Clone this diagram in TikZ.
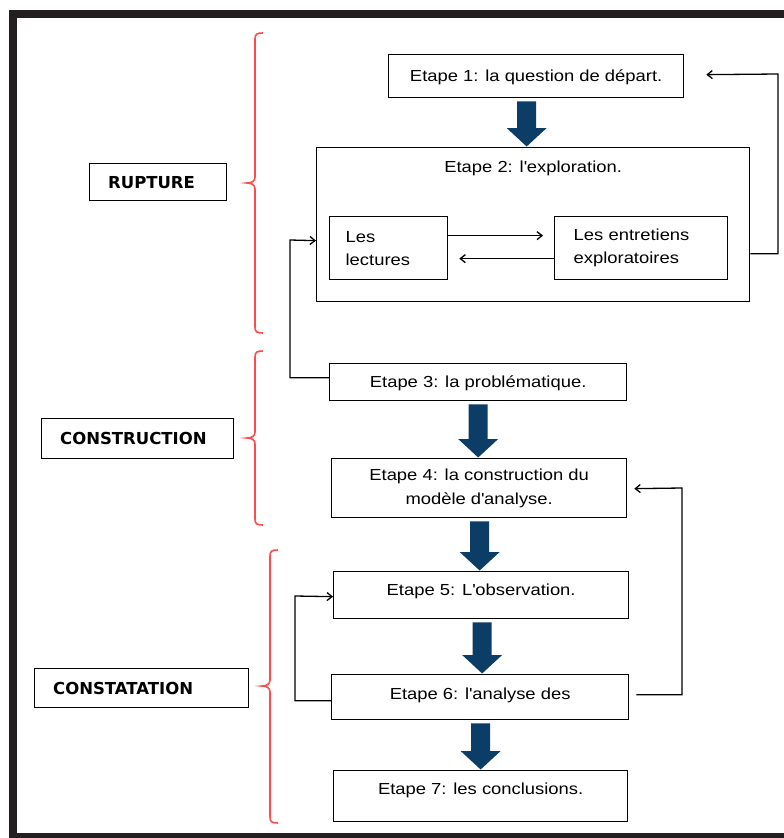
\documentclass[tikz,border=0pt]{standalone}
\usepackage{fontspec}
\setmainfont{Liberation Sans}[FakeStretch=1.15]
\newfontfamily\labfont{DejaVu Sans}
\usetikzlibrary{arrows.meta,calc}
\definecolor{framecol}{RGB}{35,31,32}
\definecolor{arrowblue}{RGB}{11,61,102}
\definecolor{bracered}{RGB}{255,75,75}
\newcommand\apo{\textquotesingle}
\tikzset{
  box/.style={draw=black, line width=1.3pt, rectangle, inner sep=0pt, anchor=north west,
    font=\fontsize{16}{24}\selectfont},
  one/.style={text height=11.5pt, text depth=#1},
  one/.default=0pt,
  lbox/.style={draw=black, line width=1.3pt, rectangle, anchor=north west, inner xsep=18.5pt,
    inner ysep=0pt, align=left, font=\labfont\bfseries\fontsize{16.5}{20}\selectfont,
    text height=12pt, text depth=0pt},
  thinarr/.style={draw=black, line width=1.3pt, -{Straight Barb[length=5pt,width=8pt]}},
  bracestyle/.style={draw=bracered, line width=1.6pt},
}
\newcommand\blockarrow[3]{%
  \fill[arrowblue] let \p1=(#1.south), \p2=(#2.north) in
    ({\x1+(#3)-9.5pt},{\y1-3pt}) -- ({\x1+(#3)+9.5pt},{\y1-3pt}) --
    ({\x1+(#3)+9.5pt},{\y2+19pt}) -- ({\x1+(#3)+20pt},{\y2+19pt}) --
    ({\x1+(#3)},{\y2+0.5pt}) -- ({\x1+(#3)-20pt},{\y2+19pt}) --
    ({\x1+(#3)-9.5pt},{\y2+19pt}) -- cycle;}
\newcommand\redbrace[4]{%
  \draw[bracestyle] (#1+8,#2) .. controls (#1+2,#2) and (#1,#2+1) .. (#1,#2+6) --
    (#1,#3-6) .. controls (#1,#3-2) and (#1-3,#3) .. (#1-8,#3)
    .. controls (#1-3,#3) and (#1,#3+2) .. (#1,#3+6) --
    (#1,#4-6) .. controls (#1,#4-1) and (#1+2,#4) .. (#1+8,#4);}
\begin{document}
\begin{tikzpicture}[x=1pt,y=-1pt]
\useasboundingbox (0,0) rectangle (784,838);
\clip (0,0) rectangle (784,838);
\fill[white] (0,0) rectangle (784,838);
\draw[framecol, line width=7.5pt] (13,13.75) rectangle (800,837);

% steps
\node[box, one, minimum width=295pt, minimum height=43pt] (e1) at (388,54) {Etape 1: la question de départ.};
\node[box, minimum width=433pt, minimum height=154pt] (e2) at (316,147) {};
\node[font=\fontsize{16}{24}\selectfont, text height=11.5pt, text depth=0pt, inner sep=0pt]
  (e2t) at ([yshift=-19.5pt]e2.north) {Etape 2: l\apo exploration.};
\node[box, minimum width=118pt, minimum height=63pt, inner xsep=16pt, text width=86pt, align=left,
  font=\fontsize{16}{23}\selectfont] (lect) at (329,216) {Les\\lectures};
\node[box, minimum width=173pt, minimum height=63pt, inner xsep=19pt, text width=135pt, align=left,
  font=\fontsize{16}{23}\selectfont] (entr) at (554,216) {Les entretiens\\exploratoires};
\node[box, one, minimum width=297pt, minimum height=37pt] (e3) at (329,363) {Etape 3: la problématique.};
\node[box, align=center, minimum width=295pt, minimum height=59pt] (e4) at (331,458) {Etape 4: la construction du\\modèle d\apo analyse.};
\node[box, one=10pt, minimum width=295pt, minimum height=47pt] (e5) at (333,571) {Etape 5: L\apo observation.};
\node[box, one=7pt, minimum width=297pt, minimum height=45pt] (e6) at (331,674) {Etape 6: l\apo analyse des};
\node[box, one=14pt, minimum width=294pt, minimum height=51pt] (e7) at (333,770) {Etape 7: les conclusions.};

% phase labels
\node[lbox, minimum width=137pt, minimum height=37pt, text width=100pt] (rup) at (89,163) {RUPTURE};
\node[lbox, minimum width=192pt, minimum height=40pt, text width=155pt] (cons) at (41,418) {CONSTRUCTION};
\node[lbox, minimum width=214pt, minimum height=39pt, text width=177pt] (const) at (34,668) {CONSTATATION};

% braces
\redbrace{255}{33}{183}{333}
\redbrace{255}{351}{438}{525}
\redbrace{270}{550}{686}{823}

% block arrows
\blockarrow{e1}{e2}{-9.5pt}
\blockarrow{e3}{e4}{0pt}
\blockarrow{e4}{e5}{0.5pt}
\blockarrow{e5}{e6}{1pt}
\blockarrow{e6}{e7}{0.5pt}

% thin arrows
\draw[thinarr] ([yshift=12.5pt]lect.east) -- ([yshift=12.5pt,xshift=-11pt]entr.west);
\draw[thinarr] ([yshift=-10.5pt]entr.west) -- ([yshift=-10.5pt,xshift=11pt]lect.east);
\coordinate (c1) at (778,74);
\draw[thinarr] ([yshift=-29pt]e2.east) -| (c1) -- ([xshift=22pt,yshift=1.5pt]e1.east);
\coordinate (c2) at (290,240);
\draw[thinarr] ([yshift=4.5pt]e3.west) -| (c2) -- ([yshift=-16pt]e2.west);
\coordinate (c3) at (682,488);
\draw[thinarr] ([xshift=7pt,yshift=2.5pt]e6.east) -| (c3) -- ([xshift=7pt,yshift=-0.5pt]e4.east);
\coordinate (c4) at (295,596);
\draw[thinarr] ([yshift=-3.5pt]e6.west) -| (c4) -- ([yshift=-1.5pt]e5.west);
\end{tikzpicture}
\end{document}
